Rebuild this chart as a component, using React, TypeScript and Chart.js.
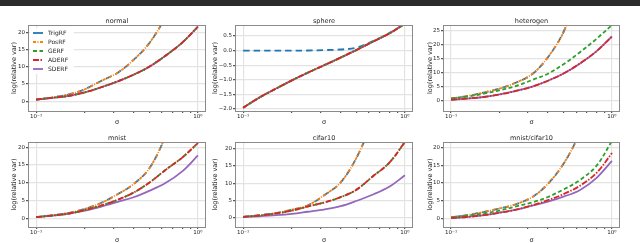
import React, { useEffect, useRef } from "react";
import { Chart, registerables } from "chart.js";
Chart.register(...registerables);

// ---------- data ----------
const SIGMA = [0.1, 0.125, 0.16, 0.2, 0.25, 0.32, 0.4, 0.5, 0.63, 0.8, 1.0];
const METHODS = ["TrigRF", "PosRF", "GERF", "ADERF", "SDERF"];
const X_TICKS = [0.1, 0.2, 0.3, 0.4, 0.5, 0.6, 0.7, 0.8, 0.9, 1.0];

// normal
const normalTrig = [0.5, 1.1, 2.0, 3.5, 5.8, 8.3, 12, 16.8, 24.5, 36, 50];
const normalPos = [0.5, 1.1, 2.0, 3.5, 5.8, 8.3, 12, 16.8, 24.5, 36, 50];
const normalGE = [0.5, 1.0, 1.6, 2.6, 4.0, 5.8, 7.7, 10.0, 13.2, 17.0, 21.6];
const normalADE = [0.5, 1.0, 1.6, 2.6, 4.0, 5.8, 7.7, 10.0, 13.2, 17.0, 21.6];
const normalSDE = [0.5, 1.0, 1.6, 2.6, 4.0, 5.8, 7.7, 10.0, 13.2, 17.0, 21.6];
const normalYTicks = [0, 5, 10, 15, 20];

// sphere
const sphereTrig = [0, 0, 0, 0, 0.005, 0.02, 0.04, 0.1, 0.32, 0.6, 0.92];
const spherePos = [-1.96, -1.62, -1.3, -1.02, -0.76, -0.49, -0.24, 0.02, 0.3, 0.59, 0.92];
const sphereGE = [-1.96, -1.62, -1.3, -1.02, -0.76, -0.49, -0.24, 0.02, 0.3, 0.59, 0.92];
const sphereADE = [-1.96, -1.62, -1.3, -1.02, -0.76, -0.49, -0.24, 0.02, 0.3, 0.59, 0.92];
const sphereSDE = [-1.96, -1.62, -1.3, -1.02, -0.76, -0.49, -0.24, 0.02, 0.3, 0.59, 0.92];
const sphereYTicks = [-2.0, -1.5, -1.0, -0.5, 0.0, 0.5];

// heterogen
const heteroTrig = [0.8, 1.6, 2.9, 4.3, 6.3, 9.5, 15.5, 24.5, 40, 60, 85];
const heteroPos = [0.8, 1.6, 2.9, 4.3, 6.3, 9.5, 15.5, 24.5, 40, 60, 85];
const heteroGE = [0.7, 1.4, 2.5, 3.7, 5.1, 7.4, 9.6, 13.0, 17.2, 22.0, 27.0];
const heteroADE = [0.3, 0.7, 1.3, 2.2, 3.4, 5.0, 7.1, 9.7, 13.2, 17.6, 22.9];
const heteroSDE = [0.3, 0.7, 1.3, 2.2, 3.4, 5.0, 7.1, 9.7, 13.2, 17.6, 22.9];
const heteroYTicks = [0, 5, 10, 15, 20, 25];

// mnist
const mnistTrig = [0.3, 0.8, 1.5, 2.6, 4.2, 6.8, 9.6, 14.0, 23, 35, 50];
const mnistPos = [0.3, 0.8, 1.5, 2.6, 4.2, 6.8, 9.6, 14.0, 23, 35, 50];
const mnistGE = [0.3, 0.7, 1.3, 2.3, 3.5, 5.2, 7.2, 10.0, 13.6, 17.1, 21.2];
const mnistADE = [0.3, 0.7, 1.3, 2.3, 3.5, 5.2, 7.2, 10.0, 13.6, 17.1, 21.2];
const mnistSDE = [0.3, 0.7, 1.3, 2.1, 3.2, 4.6, 5.9, 7.7, 9.9, 13.2, 17.7];
const mnistYTicks = [0, 5, 10, 15, 20];

// cifar10
const cifarTrig = [0.3, 0.8, 1.4, 2.4, 3.6, 6.7, 10.2, 17.2, 28, 42, 58];
const cifarPos = [0.3, 0.8, 1.4, 2.4, 3.6, 6.7, 10.2, 17.2, 28, 42, 58];
const cifarGE = [0.3, 0.7, 1.3, 2.1, 3.3, 4.5, 6.0, 8.1, 11.9, 15.9, 21.9];
const cifarADE = [0.3, 0.7, 1.3, 2.1, 3.3, 4.5, 6.0, 8.1, 11.9, 15.9, 21.9];
const cifarSDE = [0.3, 0.5, 0.8, 1.2, 1.8, 2.5, 3.4, 4.9, 6.7, 9.0, 12.3];
const cifarYTicks = [0, 5, 10, 15, 20];

// mnist/cifar10
const mcTrig = [0.4, 1.0, 1.9, 2.9, 4.0, 6.1, 9.8, 15.4, 24, 37, 52];
const mcPos = [0.4, 1.0, 1.9, 2.9, 4.0, 6.1, 9.8, 15.4, 24, 37, 52];
const mcGE = [0.4, 0.9, 1.5, 2.3, 3.4, 4.6, 6.1, 8.2, 10.8, 14.8, 21.8];
const mcADE = [0.2, 0.5, 1.0, 1.7, 2.5, 3.8, 5.2, 6.9, 9.2, 12.8, 18.4];
const mcSDE = [0.2, 0.5, 1.0, 1.7, 2.5, 3.7, 4.8, 6.2, 8.0, 11.4, 16.2];
const mcYTicks = [0, 5, 10, 15, 20];

// ---------- style / layout ----------
const COLORS = ["#1f77b4", "#ff7f0e", "#2ca02c", "#d62728", "#9467bd"];
const DASHES: number[][] = [[6.5, 4], [3, 1.5, 1, 1.5], [4, 2.5], [6, 1.5, 1.5, 1.5], []];
const ORDER = [4, 3, 1, 0, 2];
const FONT = "'DejaVu Sans', sans-serif";
const TEXT = "#262626";
const GRID = "#e3e3e3";
const CANVAS_W = 640;
const CANVAS_H = 260;
const X_MIN = 0.0891;
const X_MAX = 1.122;

const COLS = [
  { regionLeft: 10, plotLeft: 28, plotRight: 206 },
  { regionLeft: 211, plotLeft: 235, plotRight: 413 },
  { regionLeft: 426, plotLeft: 443, plotRight: 620 },
];
const ROWS = [
  { plotTop: 25, plotBottom: 111, xBottom: 126 },
  { plotTop: 142, plotBottom: 227, xBottom: 244 },
];

type PanelDef = {
  title: string;
  series: number[][];
  yMin: number;
  yMax: number;
  yTicks: number[];
  decimals: number;
  row: number;
  col: number;
  legend?: boolean;
};

const PANELS: PanelDef[] = [
  { title: "normal", series: [normalTrig, normalPos, normalGE, normalADE, normalSDE], yMin: -2.8, yMax: 22.1, yTicks: normalYTicks, decimals: 0, row: 0, col: 0, legend: true },
  { title: "sphere", series: [sphereTrig, spherePos, sphereGE, sphereADE, sphereSDE], yMin: -2.07, yMax: 0.88, yTicks: sphereYTicks, decimals: 1, row: 0, col: 1 },
  { title: "heterogen", series: [heteroTrig, heteroPos, heteroGE, heteroADE, heteroSDE], yMin: -3.7, yMax: 27, yTicks: heteroYTicks, decimals: 0, row: 0, col: 2 },
  { title: "mnist", series: [mnistTrig, mnistPos, mnistGE, mnistADE, mnistSDE], yMin: -2.5, yMax: 21.5, yTicks: mnistYTicks, decimals: 0, row: 1, col: 0 },
  { title: "cifar10", series: [cifarTrig, cifarPos, cifarGE, cifarADE, cifarSDE], yMin: -2.6, yMax: 21.9, yTicks: cifarYTicks, decimals: 0, row: 1, col: 1 },
  { title: "mnist/cifar10", series: [mcTrig, mcPos, mcGE, mcADE, mcSDE], yMin: -2.3, yMax: 21.5, yTicks: mcYTicks, decimals: 0, row: 1, col: 2 },
];

function fmtY(v: number, decimals: number) {
  const s = Math.abs(v).toFixed(decimals);
  return v < 0 ? "\u2212" + s : s;
}

function framePlugin(title: string, legend: boolean) {
  return {
    id: "frame",
    afterDraw(chart: any) {
      const { ctx, chartArea: a } = chart;
      ctx.save();
      ctx.strokeStyle = "#8a8a8a";
      ctx.lineWidth = 1;
      ctx.strokeRect(Math.round(a.left) + 0.5, Math.round(a.top) + 0.5, Math.round(a.right - a.left) - 1, Math.round(a.bottom - a.top));
      ctx.fillStyle = TEXT;
      ctx.font = `6.5px ${FONT}`;
      ctx.textAlign = "center";
      ctx.textBaseline = "middle";
      ctx.fillText(title, (a.left + a.right) / 2, a.top - 3.8);
      if (legend) {
        const bx = a.left + 2;
        const by = a.top + 3;
        ctx.fillStyle = "rgba(255,255,255,0.9)";
        ctx.fillRect(bx, by, 44, 46);
        ctx.font = `6px ${FONT}`;
        ctx.textAlign = "left";
        METHODS.forEach((m, i) => {
          const y = a.top + 8 + i * 9;
          ctx.beginPath();
          ctx.strokeStyle = COLORS[i];
          ctx.lineWidth = 1.8;
          ctx.setLineDash(i === 0 ? [] : DASHES[i]);
          ctx.moveTo(a.left + 5, y);
          ctx.lineTo(a.left + 15, y);
          ctx.stroke();
          ctx.setLineDash([]);
          ctx.fillStyle = TEXT;
          ctx.fillText(m, a.left + 20, y);
        });
      }
      ctx.restore();
    },
  };
}

function Panel({ def }: { def: PanelDef }) {
  const ref = useRef<HTMLCanvasElement | null>(null);
  useEffect(() => {
    const canvas = ref.current;
    if (!canvas) return;
    const col = COLS[def.col];
    const row = ROWS[def.row];
    const tickFont = { family: FONT, size: 5.5 };
    const chart = new Chart(canvas, {
      type: "line",
      data: {
        datasets: METHODS.map((m, i) => ({
          label: m,
          data: SIGMA.map((s, j) => ({ x: s, y: def.series[i][j] })),
          borderColor: COLORS[i],
          backgroundColor: COLORS[i],
          borderDash: DASHES[i],
          borderWidth: 1.8,
          pointRadius: 0,
          fill: false,
          tension: 0.35,
          order: ORDER[i],
        })),
      },
      options: {
        animation: false,
        responsive: false,
        maintainAspectRatio: false,
        devicePixelRatio: 1,
        events: [],
        layout: {
          padding: {
            left: col.regionLeft,
            right: CANVAS_W - col.plotRight,
            top: row.plotTop,
            bottom: CANVAS_H - row.xBottom,
          },
        },
        plugins: { legend: { display: false }, tooltip: { enabled: false }, title: { display: false } },
        scales: {
          x: {
            type: "logarithmic",
            min: X_MIN,
            max: X_MAX,
            afterBuildTicks: (s: any) => {
              s.ticks = X_TICKS.map((v) => ({ value: v, major: v === 0.1 || v === 1.0 }));
            },
            afterFit: (s: any) => {
              s.height = row.xBottom - row.plotBottom;
            },
            ticks: {
              autoSkip: false,
              maxRotation: 0,
              minRotation: 0,
              padding: 0.5,
              color: TEXT,
              font: tickFont,
              callback: (v: any) => (v === 0.1 ? "10\u207B\u00B9" : v === 1 ? "10\u2070" : ""),
            },
            grid: {
              color: (c: any) => (c.tick && (c.tick.value === 0.1 || c.tick.value === 1) ? GRID : "rgba(0,0,0,0)"),
              tickColor: "#555",
              tickLength: 2,
              lineWidth: 1.2,
            },
            border: { display: false },
            title: { display: true, text: "\u03C3", color: TEXT, font: { family: FONT, size: 6.5 }, padding: 0 },
          },
          y: {
            type: "linear",
            min: def.yMin,
            max: def.yMax,
            afterBuildTicks: (s: any) => {
              s.ticks = def.yTicks.map((v) => ({ value: v }));
            },
            afterFit: (s: any) => {
              s.width = col.plotLeft - col.regionLeft;
            },
            ticks: {
              padding: 1,
              color: TEXT,
              font: tickFont,
              callback: (v: any) => fmtY(Number(v), def.decimals),
            },
            grid: { color: GRID, tickColor: "#555", tickLength: 2, lineWidth: 1.2 },
            border: { display: false },
            title: { display: true, text: "log(relative var)", color: TEXT, font: { family: FONT, size: 6.5 }, padding: 0 },
          },
        },
      },
      plugins: [framePlugin(def.title, !!def.legend)],
    } as any);
    return () => chart.destroy();
  }, [def]);
  return (
    <canvas
      ref={ref}
      width={CANVAS_W}
      height={CANVAS_H}
      style={{ position: "absolute", left: 0, top: 0, width: CANVAS_W, height: CANVAS_H }}
    />
  );
}

export default function App() {
  return (
    <div
      style={{
        position: "fixed",
        left: 0,
        top: 0,
        width: 640,
        height: 243,
        overflow: "hidden",
        background: "#ffffff",
      }}
    >
      <div style={{ position: "absolute", left: 0, top: 0, width: 640, height: 6, background: "#2b2b2b" }} />
      {PANELS.map((p) => (
        <Panel key={p.title} def={p} />
      ))}
    </div>
  );
}
